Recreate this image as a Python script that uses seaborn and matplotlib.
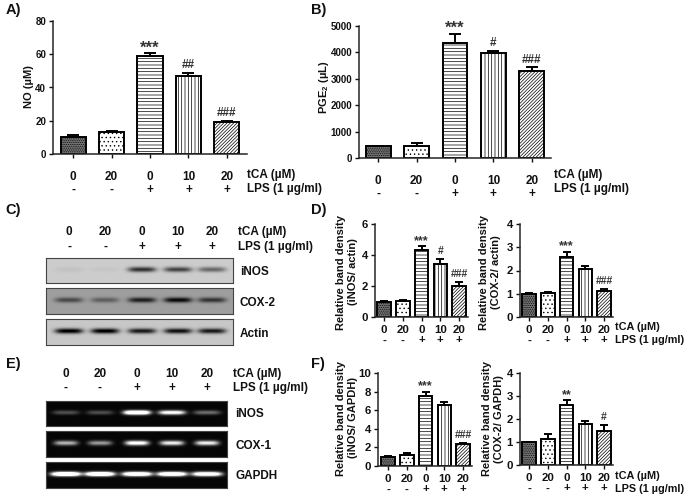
import numpy as np
import pandas as pd
import matplotlib
matplotlib.use('Agg')
import matplotlib.pyplot as plt
import seaborn as sns

sns.set_theme(style='ticks')
plt.rcParams['font.family'] = ['Liberation Sans', 'DejaVu Sans']
plt.rcParams['font.weight'] = 'bold'
plt.rcParams['axes.labelweight'] = 'bold'
plt.rcParams['mathtext.fontset'] = 'custom'
plt.rcParams['mathtext.rm'] = 'Liberation Sans:bold'
plt.rcParams['mathtext.default'] = 'rm'
plt.rcParams['hatch.linewidth'] = 0.5

W, H = 688, 499

lanes = ['a', 'b', 'c', 'd', 'e']
tca = ['0', '20', '0', '10', '20']
lps = ['-', '-', '+', '+', '+']

no_vals = [10.5, 13, 59, 47, 19]
no_err = [1, 1, 1.5, 1.8, 1]
no_marks = ['', '', '***', '##', '###']

pge_vals = [440, 470, 4370, 3970, 3300]
pge_err = [20, 90, 330, 100, 150]
pge_marks = ['', '', '***', '#', '###']

d1_vals = [1, 1.02, 4.35, 3.45, 2.0]
d1_err = [0.02, 0.05, 0.2, 0.3, 0.25]
d1_marks = ['', '', '***', '#', '###']

d2_vals = [1, 1.05, 2.57, 2.07, 1.13]
d2_err = [0.02, 0.03, 0.23, 0.12, 0.08]
d2_marks = ['', '', '***', '', '###']

f1_vals = [1, 1.2, 7.5, 6.6, 2.35]
f1_err = [0.05, 0.15, 0.5, 0.3, 0.15]
f1_marks = ['', '', '***', '', '###']

f2_vals = [1, 1.12, 2.6, 1.8, 1.5]
f2_err = [0.02, 0.23, 0.22, 0.1, 0.25]
f2_marks = ['', '', '**', '', '#']

# band strength per lane, 0 = nothing, above 1 saturates
wb_inos = [0.06, 0.04, 0.85, 0.75, 0.55]
wb_cox2 = [0.6, 0.45, 0.9, 1.05, 0.75]
wb_actin = [1.1, 1.1, 0.95, 1.0, 0.95]
gel_inos = [0.3, 0.3, 1.5, 1.1, 0.42]
gel_cox1 = [0.7, 0.6, 1.1, 0.95, 0.95]
gel_gapdh = [1.6, 1.6, 1.5, 1.5, 1.4]

hatches = ['.........', '....', '-----', '|||||', '//////////']
faces = ['#777777', 'white', 'white', 'white', 'white']

fig = plt.figure(figsize=(W / 100, H / 100), dpi=100, facecolor='white')


def box(left, top, right, bottom):
    return fig.add_axes([left / W, 1 - bottom / H, (right - left) / W, (bottom - top) / H])


def label(x, y, s, size=8.5, **kw):
    kw.setdefault('ha', 'left')
    fig.text(x / W, 1 - y / H, s, fontsize=size, va='center', fontweight='bold', color='#111111', **kw)


def bars(pos, vals, err, marks, ymax, step, xr, ylab, ylab_x, ylab_y, pad=0.0,
         size=8.5, ysize=7, lw=1.4, cap=4.5, wid=0.65, msize=8.5, lab_size=8, xpad=9.5, star_scale=1.4):
    ax = box(*pos)
    df = pd.DataFrame({'lane': lanes, 'val': vals})
    sns.barplot(data=df, x='lane', y='val', order=lanes, color='white', width=wid,
                edgecolor='black', linewidth=lw, errorbar=None, saturation=1, ax=ax)
    for p, h, c in zip(ax.patches, hatches, faces):
        p.set_hatch(h)
        p.set_facecolor(c)
    ax.errorbar(range(5), vals, yerr=[[0] * 5, err], fmt='none', ecolor='black',
                elinewidth=lw, capsize=cap, capthick=lw, zorder=1)
    for i in range(5):
        if marks[i]:
            star = '*' in marks[i]
            ax.annotate(marks[i], (i, vals[i] + err[i]), xytext=(0, pad - 1.5 if star else pad + 1),
                        textcoords='offset points', ha='center', va='bottom',
                        fontsize=msize * star_scale if star else msize, color='#333333')
    ax.set_xlim(*xr)
    ax.set_ylim(0, ymax)
    ax.set_yticks(np.arange(0, ymax + step / 2, step))
    ax.set_xticks(range(5))
    ax.set_xticklabels([t + '\n' + s for t, s in zip(tca, lps)], fontsize=size, linespacing=1.1)
    ax.tick_params(axis='y', labelsize=ysize, length=3, width=1, pad=2, colors='#111111')
    ax.tick_params(axis='x', length=3, width=1, pad=xpad, colors='#111111')
    ax.set_xlabel('')
    ax.set_ylabel('')
    sns.despine(ax=ax)
    for sp in ax.spines.values():
        sp.set_linewidth(1.1)
    fig.text(ylab_x / W, 1 - ylab_y / H, ylab, rotation=90, ha='center', va='center',
             fontsize=lab_size, fontweight='bold', linespacing=1.15, color='#111111')
    return ax


def blot(pos, strength, centers, bg, target, band_w=28, band_h=2.6):
    left, top, right, bottom = pos
    ax = box(*pos)
    xx, yy = np.meshgrid(np.arange(left, right) + 0.5, np.arange(top, bottom) + 0.5)
    yc = (top + bottom) / 2 - 1
    img = np.full(xx.shape, float(bg))
    for c, s in zip(centers, strength):
        g = np.exp(-((xx - c) / (band_w / 2)) ** 4) * np.exp(-((yy - yc) / band_h) ** 2)
        img += s * g * (target - bg)
    sns.heatmap(img, cmap='gray', vmin=0, vmax=1, cbar=False, xticklabels=False, yticklabels=False, ax=ax)
    for sp in ax.spines.values():
        sp.set_visible(True)
        sp.set_color('#444444')
        sp.set_linewidth(0.8)
    return ax


# panel A and B
bars((53, 21, 247, 154), no_vals, no_err, no_marks, 80, 20, (-0.52, 4.52),
     'NO (\u00b5M)', 29, 87)
bars((359, 26, 551, 158), pge_vals, pge_err, pge_marks, 5000, 1000, (-0.5, 4.5),
     'PGE$_2$ (\u00b5L)', 324, 87)

# panel D and F
small = dict(size=8.2, ysize=8.2, lw=1.4, cap=2.6, wid=0.72, msize=7.5, lab_size=8.0, xpad=2.5, star_scale=1.2)
bars((375, 224, 468, 317), d1_vals, d1_err, d1_marks, 6, 2, (-0.48, 4.48),
     'Relative band density\n(iNOS/ actin)', 347, 272, pad=1, **small)
bars((520, 224, 613, 317), d2_vals, d2_err, d2_marks, 4, 1, (-0.48, 4.48),
     'Relative band density\n(COX-2/ actin)', 490, 272, pad=1, **small)
bars((378, 373, 472, 466), f1_vals, f1_err, f1_marks, 10, 2, (-0.53, 4.47),
     'Relative band density\n(iNOS/ GAPDH)', 347, 418, pad=1, **small)
bars((520, 373, 613, 465), f2_vals, f2_err, f2_marks, 4, 1, (-0.48, 4.48),
     'Relative band density\n(COX-2/ GAPDH)', 493, 419, pad=1, **small)

# blots C
c_lanes = [69, 105, 142, 178, 212]
blot((46, 258, 233, 283), wb_inos, c_lanes, 0.80, 0.08)
blot((46, 288, 233, 314), wb_cox2, c_lanes, 0.62, 0.05)
blot((46, 319, 233, 345), wb_actin, c_lanes, 0.78, 0.05)
for x, t, s in zip(c_lanes, tca, lps):
    label(x, 232, t, ha='center')
    label(x, 247, s, ha='center')
label(238, 232, 'tCA (\u00b5M)')
label(238, 247, 'LPS (1 \u00b5g/ml)')
label(240, 272, 'iNOS')
label(240, 303, 'COX-2')
label(240, 334, 'Actin')

# blots E
e_lanes = [66, 100, 137, 172, 207]
blot((46, 401, 227, 426), gel_inos, e_lanes, 0.02, 1.0, 27, 2.2)
blot((46, 431, 227, 457), gel_cox1, e_lanes, 0.02, 1.0, 24, 2.4)
blot((46, 462, 227, 488), gel_gapdh, e_lanes, 0.02, 1.0, 30, 2.2)
for x, t, s in zip(e_lanes, tca, lps):
    label(x, 374, t, ha='center')
    label(x, 388, s, ha='center')
label(233, 374, 'tCA (\u00b5M)')
label(233, 388, 'LPS (1 \u00b5g/ml)')
label(235, 414, 'iNOS')
label(235, 446, 'COX-1')
label(235, 476, 'GAPDH')

# row labels next to the bar panels
label(247, 175, 'tCA (\u00b5M)')
label(247, 189, 'LPS (1 \u00b5g/ml)')
label(554, 175, 'tCA (\u00b5M)')
label(554, 189, 'LPS (1 \u00b5g/ml)')
label(615, 327, 'tCA (\u00b5M)', size=7.8)
label(615, 340, 'LPS (1 \u00b5g/ml)', size=7.8)
label(615, 476, 'tCA (\u00b5M)', size=7.8)
label(615, 489, 'LPS (1 \u00b5g/ml)', size=7.8)

# panel letters
for s, x, y in zip(['A)', 'B)', 'C)', 'D)', 'E)', 'F)'],
                   [6, 311, 5, 311, 6, 311], [10, 10, 210, 210, 364, 364]):
    label(x, y, s, size=10.5)

fig.savefig('out.png', dpi=100)
